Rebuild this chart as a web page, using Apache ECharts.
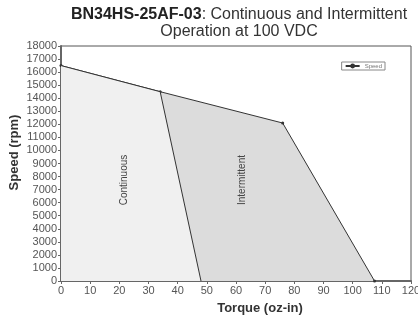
<!DOCTYPE html>
<html lang="en">
<head>
    <meta charset="UTF-8">
    <title>BN34HS-25AF-03</title>
    <script type="text/javascript" src="https://cdn.jsdelivr.net/npm/echarts@6/dist/echarts.min.js"></script>
</head>
<body style="margin:0">
<div id="main" style="width: 418px;height:319px;"></div>

<script type="text/javascript">
    // torque (oz-in) vs speed (rpm)
    var speedTorque = [0, 34, 76, 107.5];
    var speedRpm = [16500, 14500, 12100, 0];
    var contTorque = [0, 34, 48];
    var contRpm = [16500, 14500, 0];
    var xTicks = [0, 120, 10];
    var yTicks = [0, 18000, 1000];

    function pairs(xs, ys) {
        var out = [];
        for (var i = 0; i < xs.length; i++) {
            out.push([xs[i], ys[i]]);
        }
        return out;
    }

    var myChart = echarts.init(document.getElementById('main'));
    var font = 'Liberation Sans, Arial, sans-serif';

    var option = {
        animation: false,
        backgroundColor: '#fff',
        textStyle: {fontFamily: font},
        title: {
            text: '{b|BN34HS-25AF-03}{n|: Continuous and Intermittent}\n{n|Operation at 100 VDC}',
            left: 234,
            top: 1,
            textAlign: 'center',
            textStyle: {
                fontWeight: 'normal',
                rich: {
                    b: {fontSize: 16, fontWeight: 'bold', color: '#222', fontFamily: font, lineHeight: 17},
                    n: {fontSize: 16, fontWeight: 'normal', color: '#333', fontFamily: font, lineHeight: 17}
                }
            }
        },
        legend: {
            data: ['Speed'],
            right: 33,
            top: 62,
            itemWidth: 14,
            itemHeight: 6,
            itemGap: 2,
            padding: [1, 3],
            borderColor: '#888',
            borderWidth: 1,
            borderRadius: 0,
            textStyle: {fontSize: 6, color: '#777'}
        },
        grid: {
            left: 61, right: 7, top: 46, bottom: 38,
            outerBoundsMode: 'none',
            show: true,
            borderColor: '#555',
            borderWidth: 1
        },
        xAxis: {
            type: 'value',
            min: xTicks[0], max: xTicks[1], interval: xTicks[2],
            name: 'Torque (oz-in)',
            nameLocation: 'middle',
            nameGap: 21,
            nameMoveOverlap: false,
            nameTextStyle: {fontSize: 13, fontWeight: 'bold', color: '#333', padding: [0, 0, 0, 48]},
            axisLine: {lineStyle: {color: '#666', width: 2}},
            axisTick: {show: true, length: 3, lineStyle: {color: '#666'}},
            axisLabel: {fontSize: 11, color: '#555', margin: 4},
            splitLine: {show: false}
        },
        yAxis: {
            type: 'value',
            min: yTicks[0], max: yTicks[1], interval: yTicks[2],
            name: 'Speed (rpm)',
            nameLocation: 'middle',
            nameGap: 40,
            nameMoveOverlap: false,
            nameTextStyle: {fontSize: 13, fontWeight: 'bold', color: '#333', padding: [0, 0, 0, 22]},
            axisLine: {show: true, lineStyle: {color: '#666', width: 2}},
            axisTick: {show: true, length: 3, lineStyle: {color: '#666'}},
            axisLabel: {fontSize: 11, color: '#555', margin: 4, formatter: function (v) { return String(v); }},
            splitLine: {show: false}
        },
        series: [
            {
                name: 'Speed',
                type: 'line',
                data: pairs(speedTorque, speedRpm),
                symbol: 'circle',
                symbolSize: 3,
                itemStyle: {color: '#333'},
                lineStyle: {color: '#333', width: 1},
                areaStyle: {color: '#dcdcdc', opacity: 1},
                z: 2
            },
            {
                name: 'Continuous',
                type: 'line',
                data: pairs(contTorque, contRpm),
                symbol: 'none',
                lineStyle: {color: '#333', width: 1},
                areaStyle: {color: '#f0f0f0', opacity: 1},
                z: 3
            }
        ],
        graphic: [
            {
                type: 'text', x: 124, y: 180, rotation: Math.PI / 2, z: 100,
                style: {text: 'Continuous', fontSize: 10, fill: '#444', fontFamily: font, align: 'center', verticalAlign: 'middle'}
            },
            {
                type: 'text', x: 242, y: 180, rotation: Math.PI / 2, z: 100,
                style: {text: 'Intermittent', fontSize: 10, fill: '#444', fontFamily: font, align: 'center', verticalAlign: 'middle'}
            }
        ]
    };

    myChart.setOption(option);
</script>
</body>
</html>
